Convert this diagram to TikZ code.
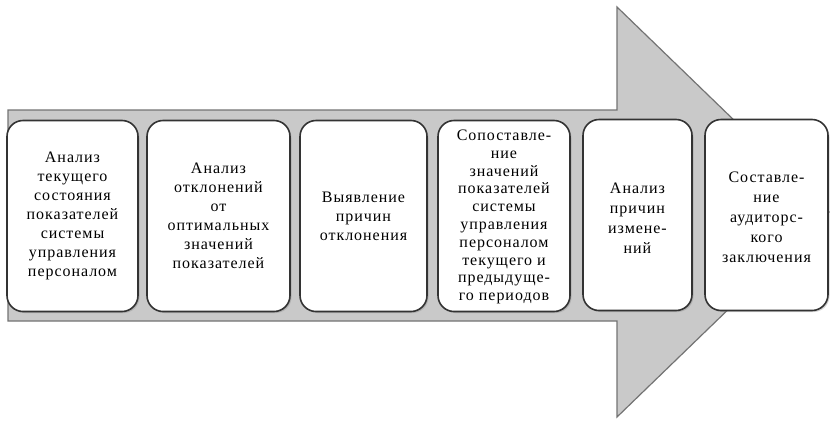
\documentclass[tikz,border=0pt]{standalone}
\usepackage{fontspec}
\setmainfont{Liberation Serif}[LetterSpace=6]
\usetikzlibrary{shadows}
\begin{document}
\begin{tikzpicture}[x=1pt,y=-1pt,
  stage/.style={draw=black!80, line width=1.6pt, fill=white, rounded corners=16pt,
    drop shadow={shadow xshift=1.5pt, shadow yshift=-1.5pt, opacity=0.35}},
  stagetext/.style={align=center, font=\fontsize{16}{19}\selectfont, inner sep=0pt}]
\useasboundingbox (0,0) rectangle (832,426);
% big arrow
\draw[fill=black!21, draw=black!55, line width=1.2pt]
  (8,110) -- (617,110) -- (617,7) -- (829,212) -- (617,417) -- (617,321) -- (8,321) -- cycle;
% stages
\node[stage, minimum width=131pt, minimum height=191pt] (s1) at (72.5,216) {};
\node[stage, minimum width=143pt, minimum height=191pt] (s2) at (218.5,216) {};
\node[stage, minimum width=127pt, minimum height=191pt] (s3) at (363.5,216) {};
\node[stage, minimum width=132pt, minimum height=191pt] (s4) at (504,216) {};
\node[stage, minimum width=109pt, minimum height=191pt] (s5) at (637.5,215) {};
\node[stage, minimum width=123pt, minimum height=191pt] (s6) at (766.5,215) {};
\node[stagetext] (t1) at (s1) {Анализ\\текущего\\состояния\\показателей\\системы\\управления\\персоналом};
\node[stagetext] (t2) at (s2) {Анализ\\отклонений\\от\\оптимальных\\значений\\показателей};
\node[stagetext] (t3) at (s3) {Выявление\\причин\\отклонения};
\node[stagetext, font=\fontsize{16}{17.8}\selectfont] (t4) at ([yshift=-1pt]s4) {Сопоставле-\\ние\\значений\\показателей\\системы\\управления\\персоналом\\текущего и\\предыдуще-\\го периодов};
\node[stagetext, font=\fontsize{16}{20}\selectfont] (t5) at ([yshift=-3pt]s5) {Анализ\\причин\\измене-\\ний};
\node[stagetext, font=\fontsize{16}{20}\selectfont] (t6) at ([yshift=-2pt]s6) {Составле-\\ние\\аудиторс-\\кого\\заключения};
\end{tikzpicture}
\end{document}
